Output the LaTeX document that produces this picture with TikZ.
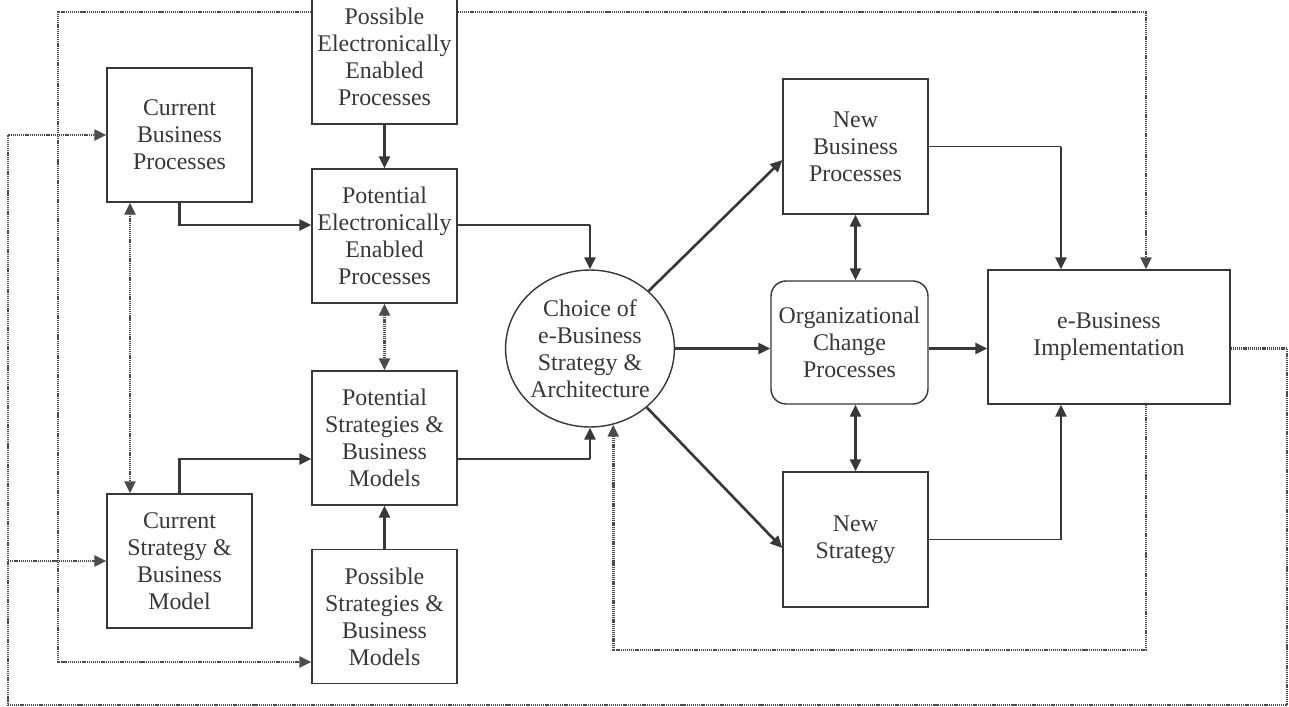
\documentclass[tikz,border=0pt]{standalone}
\usepackage{fontspec}
\setmainfont{Liberation Serif}
\usepackage{tikz}
\usetikzlibrary{positioning,arrows.meta,shapes.geometric}
\definecolor{ink}{gray}{0.22}

\begin{document}
\begin{tikzpicture}[x=0.02cm,y=-0.02cm,
		box/.style={draw=ink,line width=0.8pt,fill=white,text=ink,align=center,inner sep=0pt,
			minimum width=2.9cm,minimum height=2.68cm,font=\fontsize{13.6}{15.3}\selectfont},
		arr/.style={draw=ink,line width=1.5pt,-{Triangle[length=2.4mm,width=2.2mm]}},
		dbl/.style={arr,{Triangle[length=2.4mm,width=2.2mm]}-{Triangle[length=2.4mm,width=2.2mm]}},
		link/.style={draw=ink,line width=0.8pt},
		dotarr/.style={draw=ink!90,line width=1.4pt,dash pattern=on 0.7pt off 0.5pt,-{Triangle[length=2.4mm,width=2.2mm]}},
		dotdbl/.style={dotarr,{Triangle[length=2.4mm,width=2.2mm]}-{Triangle[length=2.4mm,width=2.2mm]}}]
	\useasboundingbox (0,0) rectangle (1289,707);
	\coordinate (ytop) at (0,12);
	\coordinate (ya) at (0,225);
	\coordinate (yb) at (0,459);
	\coordinate (ylow) at (0,650);
	\coordinate (ypos) at (0,662);
	\coordinate (ybot) at (0,705);
	\coordinate (xl) at (8,0);
	\coordinate (xm) at (58,0);
	\coordinate (xd) at (130,0);
	\coordinate (xo) at (1061,0);
	\coordinate (xi) at (1146,0);
	\coordinate (xr) at (1287,0);

	\node[box] (cbp) at (179.5,135) {Current\\Business\\Processes};
	\node[box] (csbm) at (179.5,561) {Current\\Strategy \&\\Business\\Model};
	\node[box] (pee) at (384.5,57) {Possible\\Electronically\\Enabled\\Processes};
	\node[box] (pot_e) at (384.5,236) {Potential\\Electronically\\Enabled\\Processes};
	\node[box] (pot_s) at (384.5,438) {Potential\\Strategies \&\\Business\\Models};
	\node[box] (pos_s) at (384.5,616.5) {Possible\\Strategies \&\\Business\\Models};
	\node[box,ellipse,minimum width=3.36cm,minimum height=3.14cm] (choice) at (590,348.5) {Choice of\\e-Business\\Strategy \&\\Architecture};
	\node[box,minimum height=2.7cm] (nbp) at (855.5,146.5) {New\\Business\\Processes};
	\node[box,rounded corners=0.3cm,minimum width=3.14cm,minimum height=2.46cm] (org) at (849.5,342.5) {Organizational\\Change\\Processes};
	\node[box,minimum height=2.7cm] (ns) at (855.5,539.5) {New\\Strategy};
	\node[box,minimum width=4.84cm] (eb) at (1109,337) {e-Business\\Implementation};

	\draw[arr] (pee) -- (pot_e);
	\draw[arr] (pos_s) -- (pot_s);
	\draw[arr] (cbp.south) |- (pot_e.west |- ya);
	\draw[arr] (csbm.north) |- (pot_s.west |- yb);
	\draw[link] (pot_e.east |- ya) -- (choice.north |- ya);
	\draw[arr] (choice.north |- ya) -- (choice.north);
	\draw[link] (pot_s.east |- yb) -- (choice.south |- yb);
	\draw[arr] (choice.south |- yb) -- (choice.south);
	\draw[arr] (choice) -- ([yshift=-0.27cm]nbp.west);
	\draw[arr] (choice) -- ([yshift=-0.17cm]ns.west);
	\draw[arr] (choice.east) -- (org.west |- choice.east);
	\draw[arr] (org.east |- choice.east) -- (eb.west |- choice.east);
	\draw[dbl] (nbp.south) -- (org.north -| nbp.south);
	\draw[dbl] (org.south -| ns.north) -- (ns.north);
	\draw[link] (nbp.east) -- (nbp.east -| xo);
	\draw[arr] (nbp.east -| xo) -- (eb.north -| xo);
	\draw[link] (ns.east) -- (ns.east -| xo);
	\draw[arr] (ns.east -| xo) -- (eb.south -| xo);

	\draw[dotdbl] (cbp.south -| xd) -- (csbm.north -| xd);
	\draw[dotdbl] (pot_e) -- (pot_s);
	\draw[dotarr] (pee.west |- ytop) -| (xm |- ypos) -- (pos_s.west |- ypos);
	\draw[dotarr] (pee.east |- ytop) -| (eb.north -| xi);
	\draw[dotarr] (eb.south -| xi) |- (choice.-73 |- ylow) -- (choice.-73);
	\draw[dotarr] (eb.east |- choice.east) -| (xr |- ybot) -| (xl |- cbp.west) -- (cbp.west);
	\draw[dotarr] (xl |- csbm.west) -- (csbm.west);
\end{tikzpicture}
\end{document}
